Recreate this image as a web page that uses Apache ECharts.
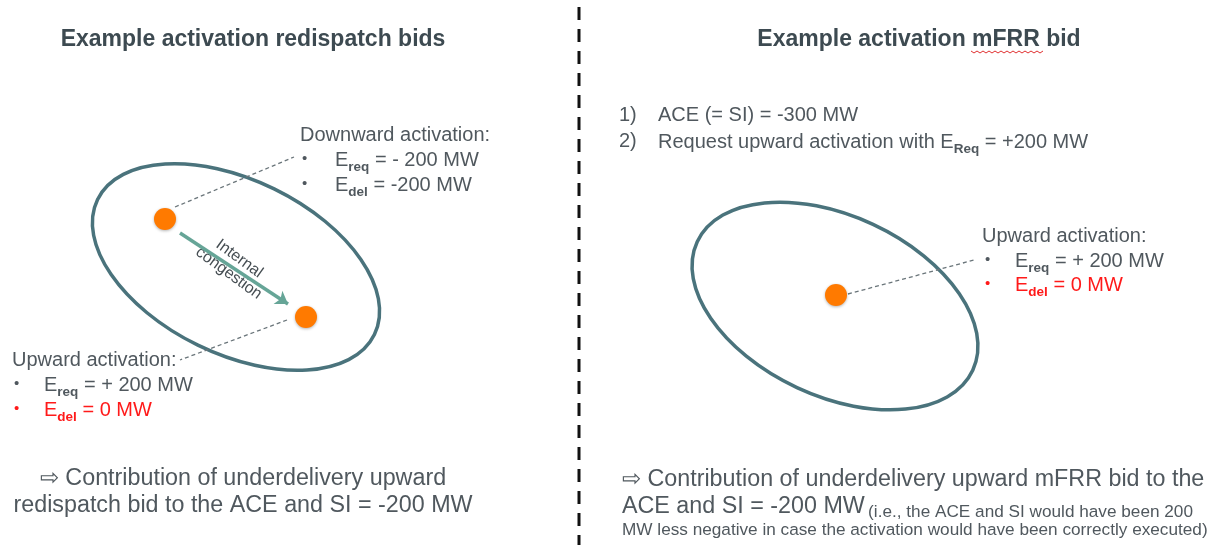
<!DOCTYPE html>
<html>
<head>
<meta charset="utf-8">
<title>Example activation bids</title>
<script src="https://cdn.jsdelivr.net/npm/echarts@6/dist/echarts.min.js"></script>
<style>
  html, body { margin: 0; padding: 0; background: #fff; }
  #chart { width: 1225px; height: 545px; }
</style>
</head>
<body>
<div id="chart"></div>
<script>
// diagram values, in canvas units (x: 0..1225, y: 0..545 from top)
const bidPoints = [[165, 219], [306, 317], [836, 295]]
// [cx, cy, semi-major, semi-minor, tilt in degrees]
const zones = [[236, 267, 154, 87, 26], [835, 306, 152, 90, 25]]
const leaderLines = [
  [[175, 207], [294, 157]],
  [[287, 320], [180, 360]],
  [[848, 294], [974, 260]]
]
const congestionArrow = [[180, 233], [288, 304]]

const FONT = 'Liberation Sans, Arial, sans-serif'
const TEXT = '#50585e'
const TITLE = '#3d4a51'
const RED = '#ff1a1a'

const chart = echarts.init(document.getElementById('chart'))

function txt(x, y, text, opt) {
  return {
    type: 'text',
    x: x,
    y: y,
    silent: true,
    style: Object.assign({
      text: text,
      font: '20px ' + FONT,
      fill: TEXT,
      textAlign: 'left',
      textVerticalAlign: 'middle'
    }, opt || {})
  }
}

// text with a subscript, eg E_req
function subTxt(x, y, main, sub, rest, color) {
  return {
    type: 'text',
    x: x,
    y: y,
    silent: true,
    style: {
      text: '{m|' + main + '}{s|' + sub + '}{m|' + rest + '}',
      fill: color,
      textAlign: 'left',
      textVerticalAlign: 'middle',
      rich: {
        m: { fontFamily: FONT, fontSize: 20, lineHeight: 28, fill: color },
        s: { fontFamily: FONT, fontSize: 13.5, fontWeight: 'bold', lineHeight: 13, verticalAlign: 'bottom', fill: color }
      }
    }
  }
}

function bullet(x, y, color) {
  return txt(x, y, '•', { font: '15px ' + FONT, fill: color || TEXT })
}

// spellcheck squiggle under "mFRR"
const squiggle = []
for (let i = 0; i <= 24; i++) {
  squiggle.push([971 + i * 3, 51 + (i % 2 === 0 ? 0 : 2)])
}

const graphics = [
  // divider
  {
    type: 'line', silent: true,
    shape: { x1: 579, y1: 7, x2: 579, y2: 545 },
    style: { stroke: '#111', lineWidth: 3, lineDash: [13, 9] }
  },
  txt(253, 40, 'Example activation redispatch bids', { font: 'bold 23px ' + FONT, fill: TITLE, textAlign: 'center' }),
  txt(919, 40, 'Example activation mFRR bid', { font: 'bold 23px ' + FONT, fill: TITLE, textAlign: 'center' }),
  { type: 'polyline', silent: true, shape: { points: squiggle }, style: { stroke: '#e03030', lineWidth: 1, fill: null } },

  // left: downward
  txt(300, 135, 'Downward activation:'),
  bullet(302, 159),
  subTxt(335, 160, 'E', 'req', ' = - 200 MW', TEXT),
  bullet(302, 184),
  subTxt(335, 185, 'E', 'del', ' = -200 MW', TEXT),

  // left: upward
  txt(12, 360, 'Upward activation:'),
  bullet(14, 384),
  subTxt(44, 385, 'E', 'req', ' = + 200 MW', TEXT),
  bullet(14, 409, RED),
  subTxt(44, 410, 'E', 'del', ' = 0 MW', RED),

  // congestion label, along the arrow
  {
    type: 'text', silent: true,
    x: 234, y: 266, rotation: -36 * Math.PI / 180,
    style: {
      text: 'Internal\ncongestion',
      font: '16px ' + FONT, fill: '#454d52',
      textAlign: 'center', textVerticalAlign: 'middle', lineHeight: 18
    }
  },

  // right: steps
  txt(619, 115, '1)'),
  txt(658, 115, 'ACE (= SI) = -300 MW'),
  txt(619, 141, '2)'),
  subTxt(658, 142, 'Request upward activation with E', 'Req', ' = +200 MW', TEXT),

  // right: upward
  txt(982, 236, 'Upward activation:'),
  bullet(985, 260),
  subTxt(1015, 261, 'E', 'req', ' = + 200 MW', TEXT),
  bullet(985, 284, RED),
  subTxt(1015, 285, 'E', 'del', ' = 0 MW', RED),

  // conclusions
  txt(243, 479, '⇨ Contribution of underdelivery upward', { font: '23.3px ' + FONT, textAlign: 'center' }),
  txt(243, 506, 'redispatch bid to the ACE and SI = -200 MW', { font: '23.3px ' + FONT, textAlign: 'center' }),
  txt(622, 480, '⇨ Contribution of underdelivery upward mFRR bid to the', { font: '23.3px ' + FONT }),
  {
    type: 'text', silent: true, x: 622, y: 507,
    style: {
      text: '{b|ACE and SI = -200 MW} {s|(i.e., the ACE and SI would have been 200}',
      textAlign: 'left', textVerticalAlign: 'middle',
      rich: {
        b: { fontFamily: FONT, fontSize: 23.3, lineHeight: 28, fill: TEXT },
        s: { fontFamily: FONT, fontSize: 17.2, lineHeight: 22, verticalAlign: 'bottom', fill: TEXT }
      }
    }
  },
  txt(622, 530, 'MW less negative in case the activation would have been correctly executed)', { font: '17.2px ' + FONT })
]

chart.setOption({
  animation: false,
  backgroundColor: '#fff',
  grid: { left: 0, right: 0, top: 0, bottom: 0 },
  xAxis: { type: 'value', min: 0, max: 1225, show: false },
  yAxis: { type: 'value', min: 0, max: 545, inverse: true, show: false },
  graphic: graphics,
  series: [
    {
      type: 'custom',
      name: 'zones',
      silent: true,
      data: zones,
      renderItem: function (params, api) {
        const c = api.coord([api.value(0), api.value(1)])
        const r = api.size([api.value(2), api.value(3)])
        return {
          type: 'ellipse',
          x: c[0],
          y: c[1],
          rotation: -api.value(4) * Math.PI / 180,
          shape: { cx: 0, cy: 0, rx: r[0], ry: r[1] },
          style: { fill: 'none', stroke: '#4a737c', lineWidth: 3.5 }
        }
      },
      z: 2
    },
    {
      type: 'lines',
      coordinateSystem: 'cartesian2d',
      silent: true,
      symbol: ['none', 'none'],
      lineStyle: { color: '#6a757a', width: 1.3, type: [4, 3], opacity: 1 },
      data: leaderLines.map(function (l) { return { coords: l } }),
      z: 3
    },
    {
      type: 'lines',
      coordinateSystem: 'cartesian2d',
      silent: true,
      symbol: ['none', 'arrow'],
      symbolSize: 12,
      lineStyle: { color: '#66a597', width: 3.5, opacity: 1 },
      data: [{ coords: congestionArrow }],
      z: 3
    },
    {
      type: 'scatter',
      silent: true,
      symbolSize: 22,
      itemStyle: {
        color: '#ff7a00', opacity: 1,
        shadowBlur: 3, shadowColor: 'rgba(0,0,0,0.3)', shadowOffsetY: 1
      },
      data: bidPoints,
      z: 4
    }
  ]
})
</script>
</body>
</html>
